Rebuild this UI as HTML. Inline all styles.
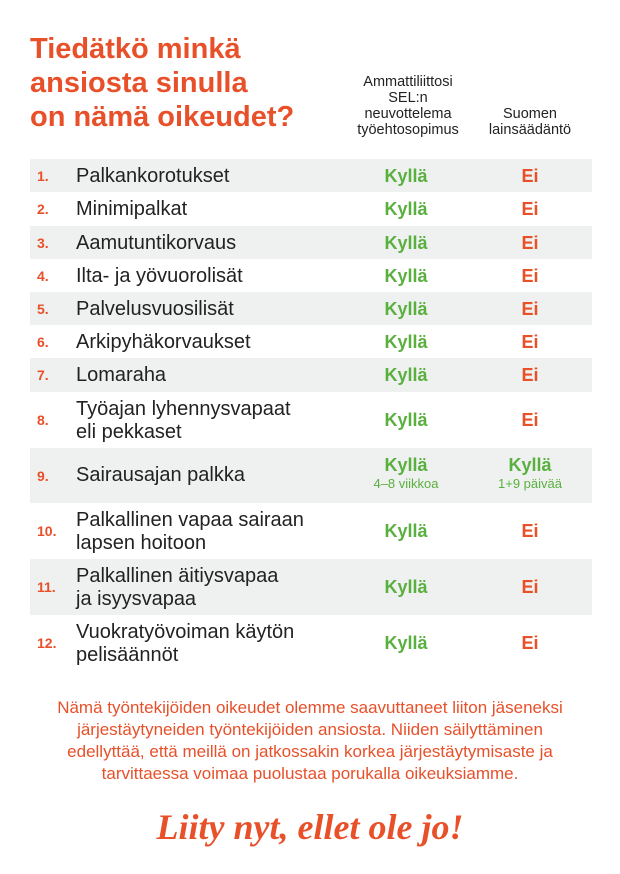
<!DOCTYPE html>
<html><head><meta charset="utf-8"><style>
body{margin:0;width:620px;height:874px;background:#fff;font-family:"Liberation Sans","DejaVu Sans",sans-serif;position:relative;overflow:hidden}
.t{position:absolute;left:30px;top:32px;color:#e8502a;font-weight:bold;font-size:29px;line-height:34px}
.h{position:absolute;color:#222;font-size:14.5px;line-height:16px;text-align:center}
.row{position:absolute;left:30px;width:562px}
.g{background:#eff1f0}
.n{position:absolute;left:7px;color:#e8502a;font-weight:bold;font-size:14px}
.l{position:absolute;left:46px;color:#222;font-size:20px;line-height:23px;white-space:nowrap}
.k{position:absolute;left:326px;width:100px;text-align:center;color:#5ab03f;font-weight:bold;font-size:18px}
.e{position:absolute;left:450px;width:100px;text-align:center;color:#e8502a;font-weight:bold;font-size:18px}
.s{display:block;font-size:13px;font-weight:normal;line-height:16px}
.f{position:absolute;left:0;width:620px;top:697px;text-align:center;color:#e8502a;font-size:17px;line-height:22px}
.sc{position:absolute;left:0;width:620px;top:806px;text-align:center;color:#e8502a;font-family:"Liberation Serif",serif;font-style:italic;font-weight:bold;font-size:36px}
</style></head><body>
<div class="t">Tiedätkö minkä<br>ansiosta sinulla<br>on nämä oikeudet?</div>
<div class="h" style="left:338px;width:140px;top:74px">Ammattiliittosi<br>SEL:n<br>neuvottelema<br>työehtosopimus</div>
<div class="h" style="left:475px;width:110px;top:106px">Suomen<br>lainsäädäntö</div>

<div class="row g" style="top:159px;height:33px"><span class="n" style="top:9px">1.</span><span class="l" style="top:6px">Palkankorotukset</span><span class="k" style="top:7px">Kyllä</span><span class="e" style="top:7px">Ei</span></div>
<div class="row" style="top:192px;height:34px"><span class="n" style="top:9px">2.</span><span class="l" style="top:6px">Minimipalkat</span><span class="k" style="top:7px">Kyllä</span><span class="e" style="top:7px">Ei</span></div>
<div class="row g" style="top:226px;height:33px"><span class="n" style="top:9px">3.</span><span class="l" style="top:6px">Aamutuntikorvaus</span><span class="k" style="top:7px">Kyllä</span><span class="e" style="top:7px">Ei</span></div>
<div class="row" style="top:259px;height:33px"><span class="n" style="top:9px">4.</span><span class="l" style="top:6px">Ilta- ja yövuorolisät</span><span class="k" style="top:7px">Kyllä</span><span class="e" style="top:7px">Ei</span></div>
<div class="row g" style="top:292px;height:33px"><span class="n" style="top:9px">5.</span><span class="l" style="top:6px">Palvelusvuosilisät</span><span class="k" style="top:7px">Kyllä</span><span class="e" style="top:7px">Ei</span></div>
<div class="row" style="top:325px;height:33px"><span class="n" style="top:9px">6.</span><span class="l" style="top:6px">Arkipyhäkorvaukset</span><span class="k" style="top:7px">Kyllä</span><span class="e" style="top:7px">Ei</span></div>
<div class="row g" style="top:358px;height:34px"><span class="n" style="top:9px">7.</span><span class="l" style="top:6px">Lomaraha</span><span class="k" style="top:7px">Kyllä</span><span class="e" style="top:7px">Ei</span></div>
<div class="row" style="top:392px;height:56px"><span class="n" style="top:20px">8.</span><span class="l" style="top:6px">Työajan lyhennysvapaat<br>eli pekkaset</span><span class="k" style="top:18px">Kyllä</span><span class="e" style="top:18px">Ei</span></div>
<div class="row g" style="top:448px;height:55px"><span class="n" style="top:20px">9.</span><span class="l" style="top:16px">Sairausajan palkka</span><span class="k" style="top:7px">Kyllä<span class="s">4–8 viikkoa</span></span><span class="e" style="top:7px;color:#5ab03f">Kyllä<span class="s">1+9 päivää</span></span></div>
<div class="row" style="top:503px;height:56px"><span class="n" style="top:20px">10.</span><span class="l" style="top:6px">Palkallinen vapaa sairaan<br>lapsen hoitoon</span><span class="k" style="top:18px">Kyllä</span><span class="e" style="top:18px">Ei</span></div>
<div class="row g" style="top:559px;height:56px"><span class="n" style="top:20px">11.</span><span class="l" style="top:6px">Palkallinen äitiysvapaa<br>ja isyysvapaa</span><span class="k" style="top:18px">Kyllä</span><span class="e" style="top:18px">Ei</span></div>
<div class="row" style="top:615px;height:56px"><span class="n" style="top:20px">12.</span><span class="l" style="top:6px">Vuokratyövoiman käytön<br>pelisäännöt</span><span class="k" style="top:18px">Kyllä</span><span class="e" style="top:18px">Ei</span></div>

<div class="f">Nämä työntekijöiden oikeudet olemme saavuttaneet liiton jäseneksi<br>järjestäytyneiden työntekijöiden ansiosta. Niiden säilyttäminen<br>edellyttää, että meillä on jatkossakin korkea järjestäytymisaste ja<br>tarvittaessa voimaa puolustaa porukalla oikeuksiamme.</div>
<div class="sc">Liity nyt, ellet ole jo!</div>
</body></html>
